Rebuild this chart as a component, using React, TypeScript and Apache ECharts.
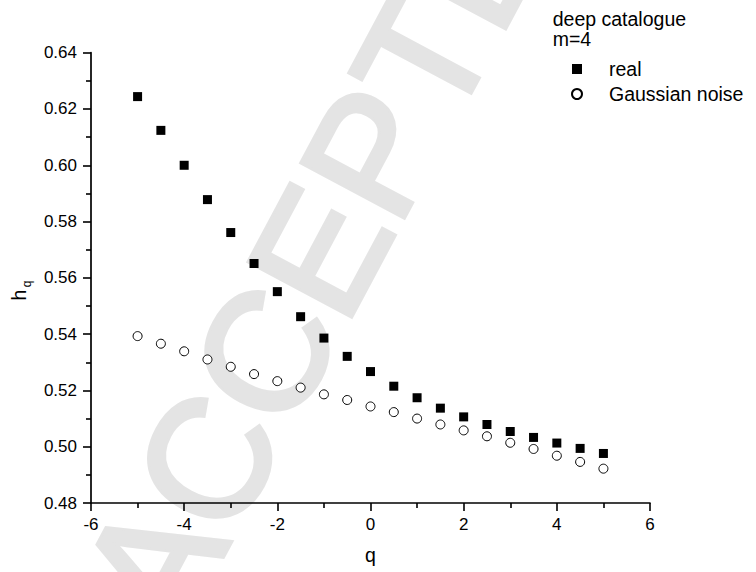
import React, { useEffect, useRef } from "react";
import * as echarts from "echarts";

// Generalized Hurst exponent h_q versus moment order q
const qValues = [-5, -4.5, -4, -3.5, -3, -2.5, -2, -1.5, -1, -0.5, 0, 0.5, 1, 1.5, 2, 2.5, 3, 3.5, 4, 4.5, 5];
const realValues = [
  0.6244, 0.6124, 0.6, 0.5878, 0.5761, 0.5651, 0.5551, 0.5462, 0.5386, 0.5321, 0.5267,
  0.5215, 0.5174, 0.5137, 0.5106, 0.5079, 0.5054, 0.5033, 0.5013, 0.4994, 0.4976,
];
const noiseValues = [
  0.5393, 0.5366, 0.5339, 0.531, 0.5284, 0.5258, 0.5233, 0.521, 0.5186, 0.5166, 0.5143,
  0.5123, 0.51, 0.5079, 0.5058, 0.5037, 0.5014, 0.4992, 0.4968, 0.4946, 0.4922,
];
const seriesNames = ["real", "Gaussian noise"];
const headerLines = ["deep catalogue", "m=4"];

const FONT = "'Liberation Sans', Arial, Helvetica, sans-serif";

export default function App() {
  const ref = useRef<HTMLDivElement>(null);

  useEffect(() => {
    if (!ref.current) return;
    const chart = echarts.init(ref.current, null, { renderer: "svg" });

    const axisCommon = {
      axisLine: { show: true, onZero: false, lineStyle: { color: "#000", width: 1.7 } },
      axisTick: { show: true, inside: false, length: 8, lineStyle: { color: "#000", width: 1.6 } },
      minorTick: { show: true, splitNumber: 2, length: 5, lineStyle: { color: "#000", width: 1.6 } },
      splitLine: { show: false },
      minorSplitLine: { show: false },
    };

    chart.setOption({
      animation: false,
      backgroundColor: "#fff",
      textStyle: { fontFamily: FONT },
      grid: { left: 91, right: 106, top: 52.7, bottom: 69, containLabel: false },
      xAxis: {
        type: "value",
        min: -6,
        max: 6,
        interval: 2,
        ...axisCommon,
        axisLabel: { color: "#000", fontSize: 17, fontFamily: FONT, margin: 13 },
        name: "q",
        nameLocation: "middle",
        nameGap: 42,
        nameTextStyle: { color: "#000", fontSize: 19.5, fontFamily: FONT },
      },
      yAxis: {
        type: "value",
        min: 0.48,
        max: 0.64,
        interval: 0.02,
        ...axisCommon,
        axisLabel: {
          color: "#000",
          fontSize: 17,
          fontFamily: FONT,
          margin: 14,
          formatter: (v: number) => v.toFixed(2),
        },
      },
      legend: {
        data: seriesNames,
        orient: "vertical",
        left: 566,
        top: 54,
        itemWidth: 10,
        itemHeight: 10,
        itemGap: 5,
        textStyle: { color: "#000", fontSize: 19.5, fontFamily: FONT, padding: [0, 0, 0, 22] },
      },
      graphic: {
        elements: [
          {
            type: "text",
            z: -10,
            silent: true,
            x: 342,
            y: 210,
            rotation: 1.08,
            style: {
              text: "ACCEPTED",
              fill: "#e4e4e4",
              stroke: "#e4e4e4",
              lineWidth: 5,
              fontSize: 168,
              fontFamily: FONT,
              align: "center",
              verticalAlign: "middle",
            },
          },
          ...headerLines.map((line, i) => ({
            type: "text",
            x: 552.7,
            y: 9 + i * 20,
            style: {
              text: line,
              fill: "#000",
              fontSize: 19.5,
              fontFamily: FONT,
              align: "left",
              verticalAlign: "top",
            },
          })),
          {
            type: "text",
            x: 18.5,
            y: 295,
            rotation: Math.PI / 2,
            style: {
              text: "h",
              fill: "#000",
              fontSize: 19.5,
              fontFamily: FONT,
              align: "center",
              verticalAlign: "middle",
            },
          },
          {
            type: "text",
            x: 26.5,
            y: 284,
            rotation: Math.PI / 2,
            style: {
              text: "q",
              fill: "#000",
              fontSize: 12,
              fontFamily: FONT,
              align: "center",
              verticalAlign: "middle",
            },
          },
        ],
      },
      series: [
        {
          name: seriesNames[0],
          type: "scatter",
          symbol: "rect",
          symbolSize: 9,
          itemStyle: { color: "#000", opacity: 1 },
          data: qValues.map((q, i) => [q, realValues[i]]),
        },
        {
          name: seriesNames[1],
          type: "scatter",
          symbol: "circle",
          symbolSize: 9,
          itemStyle: { color: "#fff", borderColor: "#000", borderWidth: 1, opacity: 1 },
          data: qValues.map((q, i) => [q, noiseValues[i]]),
        },
      ],
    });

    return () => chart.dispose();
  }, []);

  return (
    <div
      ref={ref}
      style={{ position: "absolute", left: 0, top: 0, width: 756, height: 572 }}
    />
  );
}
